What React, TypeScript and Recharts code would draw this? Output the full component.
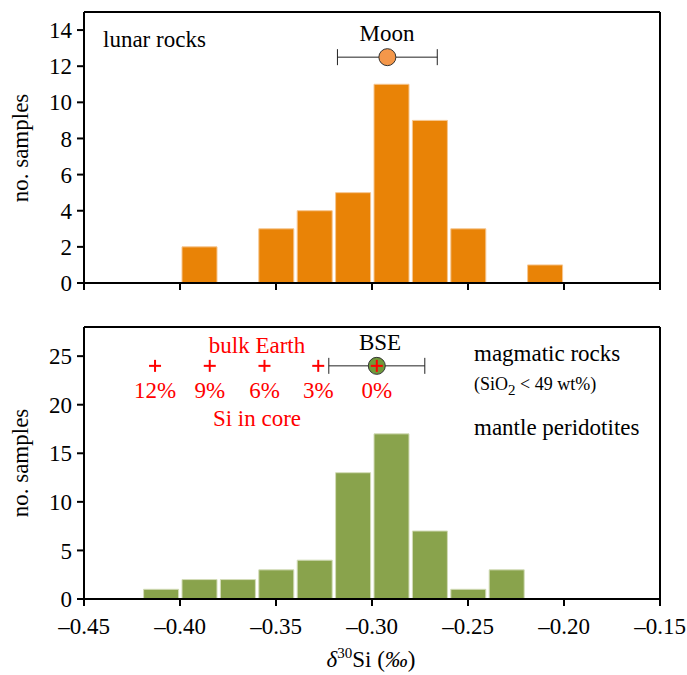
import React from 'react';
import {
  ComposedChart,
  Bar,
  Scatter,
  ErrorBar,
  XAxis,
  YAxis,
  ReferenceLine,
} from 'recharts';

// bin centres (bins are 0.02 wide)
const lunarBins = [-0.39, -0.35, -0.33, -0.31, -0.29, -0.27, -0.25, -0.21];
const lunarCounts = [2, 3, 4, 5, 11, 9, 3, 1];

const earthBins = [-0.41, -0.39, -0.37, -0.35, -0.33, -0.31, -0.29, -0.27, -0.25, -0.23];
const earthCounts = [1, 2, 2, 3, 4, 13, 17, 7, 1, 3];

const xTicks = [-0.45, -0.4, -0.35, -0.3, -0.25, -0.2, -0.15];
const lunarYTicks = [0, 2, 4, 6, 8, 10, 12, 14];
const earthYTicks = [0, 5, 10, 15, 20, 25];

// Moon and BSE means with uncertainty
const moonPoint = [{ x: -0.292, y: 12.5, err: 0.026 }];
const bsePoint = [{ x: -0.2975, y: 24, err: 0.025 }];

// bulk Earth for given Si in core
const corePositions = [-0.413, -0.3845, -0.356, -0.328, -0.2975];
const coreLabels = ['12%', '9%', '6%', '3%', '0%'];
const coreLevel = 24;

const FONT = 'Liberation Serif';
const ORANGE = '#E98306';
const GREEN = '#89A34C';
const RED = '#ff0000';

const lunarData = lunarBins.map((x, i) => ({ x, count: lunarCounts[i] }));
const earthData = earthBins.map((x, i) => ({ x, count: earthCounts[i] }));
const coreData = corePositions.map((x, i) => ({ x, y: coreLevel, label: coreLabels[i] }));

const tickStyle = { fontSize: 23, fill: '#000', fontFamily: FONT };
const fmtX = (v: number) => (v < 0 ? '\u2013' : '') + Math.abs(v).toFixed(2);
const axisStroke = { stroke: '#000', strokeWidth: 2 };

const Dot = (fill: string) => (props: any) => (
  <circle cx={props.cx} cy={props.cy} r={8.5} fill={fill} stroke="#333" strokeWidth={1} />
);

const Plus = (props: any) => {
  const { cx, cy, payload } = props;
  return (
    <g>
      <line x1={cx - 6} x2={cx + 6} y1={cy} y2={cy} stroke={RED} strokeWidth={2} />
      <line x1={cx} x2={cx} y1={cy - 6} y2={cy + 6} stroke={RED} strokeWidth={2} />
      <text x={cx} y={cy + 32} textAnchor="middle" fill={RED} fontSize={23} fontFamily={FONT}>
        {payload.label}
      </text>
    </g>
  );
};

export default function App() {
  return (
    <div
      style={{
        position: 'absolute',
        left: 0,
        top: 0,
        width: 687,
        height: 675,
        background: '#fff',
        fontFamily: FONT,
      }}
    >
      {/* lunar rocks */}
      <div style={{ position: 'absolute', left: 0, top: 0 }}>
        <ComposedChart
          width={687}
          height={300}
          data={lunarData}
          margin={{ top: 12, right: 27, bottom: 0, left: 0 }}
        >
          <XAxis
            dataKey="x"
            type="number"
            domain={[-0.45, -0.15]}
            ticks={xTicks}
            tickFormatter={() => ''}
            height={17}
            tickSize={7}
            axisLine={axisStroke}
            tickLine={axisStroke}
          />
          <XAxis xAxisId="pts" dataKey="x" type="number" domain={[-0.45, -0.15]} hide />
          <YAxis
            type="number"
            domain={[0, 15]}
            ticks={lunarYTicks}
            width={84}
            tickSize={7}
            tickMargin={5}
            tick={tickStyle}
            axisLine={axisStroke}
            tickLine={axisStroke}
          />
          <ReferenceLine y={15} stroke="#000" strokeWidth={2} />
          <ReferenceLine x={-0.15} stroke="#000" strokeWidth={2} />
          <Bar
            dataKey="count"
            fill={ORANGE}
            stroke="#f6c690"
            strokeWidth={1}
            barSize={35}
            isAnimationActive={false}
          />
          <Scatter
            xAxisId="pts"
            data={moonPoint}
            dataKey="y"
            shape={Dot('#F4974A')}
            isAnimationActive={false}
          >
            <ErrorBar
              dataKey="err"
              direction="x"
              width={8}
              stroke="#222"
              strokeWidth={1}
              isAnimationActive={false}
            />
          </Scatter>
        </ComposedChart>
      </div>

      {/* mantle peridotites */}
      <div style={{ position: 'absolute', left: 0, top: 300 }}>
        <ComposedChart
          width={687}
          height={375}
          data={earthData}
          margin={{ top: 27, right: 27, bottom: 0, left: 0 }}
        >
          <XAxis
            dataKey="x"
            type="number"
            domain={[-0.45, -0.15]}
            ticks={xTicks}
            tickFormatter={fmtX}
            tick={tickStyle}
            height={76}
            tickSize={7}
            tickMargin={12}
            axisLine={axisStroke}
            tickLine={axisStroke}
          />
          <XAxis xAxisId="pts" dataKey="x" type="number" domain={[-0.45, -0.15]} hide />
          <YAxis
            type="number"
            domain={[0, 28]}
            ticks={earthYTicks}
            width={84}
            tickSize={7}
            tickMargin={5}
            tick={tickStyle}
            axisLine={axisStroke}
            tickLine={axisStroke}
          />
          <ReferenceLine y={28} stroke="#000" strokeWidth={2} />
          <ReferenceLine x={-0.15} stroke="#000" strokeWidth={2} />
          <Bar
            dataKey="count"
            fill={GREEN}
            stroke="#d3dcb8"
            strokeWidth={1}
            barSize={35}
            isAnimationActive={false}
          />
          <Scatter
            xAxisId="pts"
            data={bsePoint}
            dataKey="y"
            shape={Dot('#6F9A3B')}
            isAnimationActive={false}
          >
            <ErrorBar
              dataKey="err"
              direction="x"
              width={8}
              stroke="#222"
              strokeWidth={1}
              isAnimationActive={false}
            />
          </Scatter>
          <Scatter
            xAxisId="pts"
            data={coreData}
            dataKey="y"
            shape={Plus}
            isAnimationActive={false}
          />
        </ComposedChart>
      </div>

      {/* annotations */}
      <svg
        width={687}
        height={675}
        style={{ position: 'absolute', left: 0, top: 0, pointerEvents: 'none' }}
        fontFamily={FONT}
        fontSize={23}
      >
        <text x={28} y={148} textAnchor="middle" transform="rotate(-90 28 148)">
          no. samples
        </text>
        <text x={28} y={463} textAnchor="middle" transform="rotate(-90 28 463)">
          no. samples
        </text>
        <text x={103} y={47}>lunar rocks</text>
        <text x={387} y={41} textAnchor="middle">Moon</text>
        <text x={380} y={350} textAnchor="middle">BSE</text>
        <text x={257} y={353} textAnchor="middle" fill={RED}>bulk Earth</text>
        <text x={257} y={426} textAnchor="middle" fill={RED}>Si in core</text>
        <text x={474} y={361}>magmatic rocks</text>
        <text x={474} y={390} fontSize={18}>
          (SiO<tspan dy={5} fontSize={15}>2</tspan>
          <tspan dy={-5}> &lt; 49 wt%)</tspan>
        </text>
        <text x={474} y={435}>mantle peridotites</text>
        <text x={371} y={667} textAnchor="middle">
          <tspan fontStyle="italic">δ</tspan>
          <tspan dy={-9} fontSize={15}>30</tspan>
          <tspan dy={9}>Si (</tspan>
          <tspan fontStyle="italic">‰</tspan>
          <tspan>)</tspan>
        </text>
      </svg>
    </div>
  );
}
